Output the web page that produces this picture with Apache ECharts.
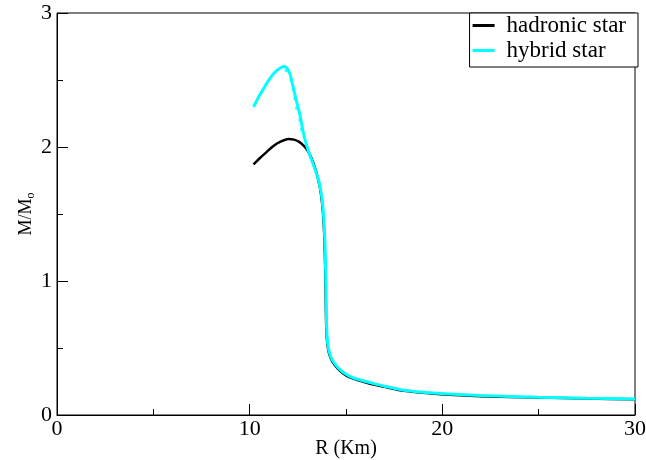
<!DOCTYPE html>
<html><head><meta charset="utf-8">
<script src="https://cdn.jsdelivr.net/npm/echarts@6/dist/echarts.min.js"></script>
<style>html,body{margin:0;padding:0;background:#fff}#c{width:646px;height:460px}</style>
</head><body><div id="c"></div>
<script>
const radiusHadronic = [10.2,10.55,10.9,11.25,11.6,12.0,12.3,12.55,12.8,13.0,13.2,13.4,13.57,13.7,13.8,13.87,13.92,13.95,13.97,14.0,14.05,14.12,14.22,14.35,14.55,14.85,15.2,15.6,16.2,17,18,19.9,22,25,27.5,30];
const massHadronic   = [1.87,1.92,1.965,2.01,2.04,2.06,2.055,2.04,2.01,1.975,1.92,1.84,1.75,1.65,1.52,1.35,1.1,0.85,0.68,0.58,0.51,0.46,0.42,0.385,0.35,0.31,0.28,0.26,0.235,0.21,0.18,0.155,0.14,0.13,0.123,0.117];
const radiusHybrid = [10.2,10.45,10.7,10.95,11.2,11.45,11.65,11.8,11.95,12.1,12.22,12.35,12.48,12.61,12.78,12.96,13.15,13.35,13.58,13.72,13.82,13.89,13.94,13.97,13.99,14.02,14.07,14.14,14.24,14.38,14.58,14.88,15.25,15.65,16.3,17,18,19.9,22,25,27.5,30];
const massHybrid   = [2.30,2.37,2.43,2.49,2.54,2.575,2.595,2.60,2.585,2.54,2.47,2.39,2.315,2.24,2.11,2.01,1.93,1.85,1.75,1.65,1.52,1.35,1.1,0.85,0.68,0.58,0.515,0.465,0.425,0.39,0.355,0.315,0.285,0.265,0.24,0.215,0.185,0.16,0.145,0.133,0.125,0.12];
const radiusHybridDots = [11.9,12.14,12.26,12.35,12.44,12.61,12.7];
const massHybridDots   = [2.57,2.50,2.43,2.36,2.29,2.20,2.13];
const seriesNames = ['hadronic star','hybrid star'];
const xTicks = [0,10,20,30];
const yTicks = [0,1,2,3];

const zip = (a,b)=>a.map((v,i)=>[v,b[i]]);
const font = "'Liberation Serif', 'Times New Roman', serif";
const chart = echarts.init(document.getElementById('c'));
chart.setOption({
  animation:false,
  backgroundColor:'#fff',
  textStyle:{fontFamily:font},
  grid:{left:57,right:11,top:13,bottom:45,show:true,borderColor:'#000',borderWidth:1,
        containLabel:false,outerBoundsMode:'none'},
  legend:{
    orient:'vertical', right:8, top:13,
    backgroundColor:'#fff', borderColor:'#000', borderWidth:1, borderRadius:0,
    padding:[0,12,4,3], itemGap:0, itemWidth:22, itemHeight:3,
    icon:'rect',
    textStyle:{fontFamily:font,fontSize:23,lineHeight:25,color:'#000',padding:[0,0,0,7]},
    data:seriesNames
  },
  xAxis:{
    type:'value', min:xTicks[0], max:xTicks[xTicks.length-1], interval:10,
    name:'R (Km)', nameLocation:'middle', nameGap:24, nameMoveOverlap:false,
    nameTextStyle:{fontFamily:font,fontSize:20,color:'#000'},
    axisLine:{show:true,lineStyle:{color:'#000',width:1}},
    axisTick:{show:true,inside:true,length:11,lineStyle:{color:'#000'}},
    minorTick:{show:true,splitNumber:2,length:6,lineStyle:{color:'#000'}},
    splitLine:{show:false},
    axisLabel:{fontFamily:font,fontSize:22,color:'#000',margin:3}
  },
  yAxis:{
    type:'value', min:yTicks[0], max:yTicks[yTicks.length-1], interval:1,
    name:'{a|M/M}{b|o}', nameLocation:'middle', nameGap:20, nameMoveOverlap:false,
    nameTextStyle:{fontFamily:font,fontSize:18,color:'#000',
      rich:{a:{fontFamily:font,fontSize:18,color:'#000'},b:{fontFamily:font,fontSize:12,color:'#000',padding:[10,0,0,0]}}},
    axisLine:{show:true,lineStyle:{color:'#000',width:1}},
    axisTick:{show:true,inside:true,length:11,lineStyle:{color:'#000'}},
    minorTick:{show:true,splitNumber:2,length:6,lineStyle:{color:'#000'}},
    splitLine:{show:false},
    axisLabel:{fontFamily:font,fontSize:22,color:'#000',margin:5}
  },
  series:[
    {name:seriesNames[0],type:'line',data:zip(radiusHadronic,massHadronic),showSymbol:false,smooth:0.25,
     lineStyle:{color:'#000',width:2.5},itemStyle:{color:'#000'},z:2},
    {name:seriesNames[1],type:'line',data:zip(radiusHybrid,massHybrid),showSymbol:false,smooth:0.25,
     lineStyle:{color:'#00ffff',width:3},itemStyle:{color:'#00ffff'},z:3},
    {name:'dots',type:'scatter',data:zip(radiusHybridDots,massHybridDots),symbol:'rect',symbolSize:3,
     itemStyle:{color:'#00ffff'},z:4}
  ]
});
</script></body></html>
